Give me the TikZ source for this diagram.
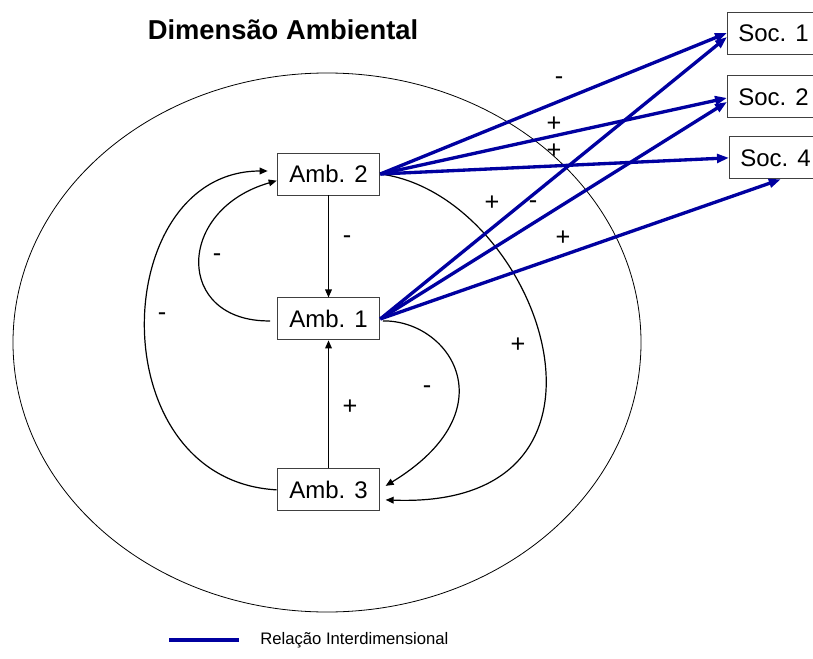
\documentclass[tikz,border=0pt]{standalone}
\usepackage{fontspec}
\setmainfont{Liberation Sans}
\usetikzlibrary{arrows.meta, positioning}
\definecolor{interblue}{RGB}{0,0,160}

\begin{document}
\begin{tikzpicture}[
    x=0.75pt, y=-0.75pt,
    amb/.style={draw=black!75, line width=0.7pt, align=center, minimum width=77pt, minimum height=31.5pt, font=\fontsize{18}{20}\selectfont},
    soc/.style={amb, minimum width=69pt},
    sign/.style={font=\fontsize{19}{20}\selectfont, inner sep=0pt},
    rel/.style={line width=0.9pt, -{Triangle[length=6pt,width=5pt]}},
    inter/.style={line width=2.5pt, draw=interblue, -{Triangle[length=9pt,width=6.5pt]}}
]
\useasboundingbox (0,0) rectangle (813,659);

% Environmental dimension
\draw[line width=0.6pt] (327,342.5) ellipse [x radius=314, y radius=269.5];
\node[font=\fontsize{20.5}{22}\selectfont\bfseries] (title) at (283,30) {Dimensão Ambiental};

% Nodes
\node[amb] (amb2) at (328.5,174) {Amb. 2};
\node[amb, below=76.5pt of amb2] (amb1) {Amb. 1};
\node[amb, below=96pt of amb1] (amb3) {Amb. 3};

\node[soc, anchor=west] (soc1) at (727,33) {Soc. 1};
\node[soc, below=15.75pt of soc1] (soc2) {Soc. 2};
\node[soc, below=13.5pt of soc2, xshift=1.5pt] (soc4) {Soc. 4};

% Connections inside the dimension
\draw[rel] (amb2) -- (amb1);
\draw[rel] (amb3) -- (amb1);
\draw[rel] ([xshift=-5pt,yshift=-1.5pt]amb1.west) .. controls (175,322) and (175,210) .. ([yshift=-5pt]amb2.west);
\draw[rel] (amb3.west) .. controls (98,480) and (108,171) .. ([xshift=-6.75pt,yshift=2.25pt]amb2.west);
\draw[rel] ([xshift=2pt,yshift=-1.5pt]amb1.east) .. controls (450,320) and (510,410) .. ([xshift=4pt,yshift=3pt]amb3.east);
\draw[rel] (amb2.east) .. controls (540,195) and (650,510) .. ([xshift=4pt,yshift=-7.5pt]amb3.east);

% Interdimensional connections
\draw[inter] (amb2.east) -- (soc1.west);
\draw[inter] (amb2.east) -- ([yshift=-0.75pt]soc2.west);
\draw[inter] (amb2.east) -- (soc4.west);
\draw[inter] (amb1.east) -- ([yshift=-3pt]soc1.west);
\draw[inter] (amb1.east) -- ([yshift=-3.75pt]soc2.west);
\draw[inter] (amb1.east) -- ([xshift=4pt]soc4.south);

% Signs
\node[sign] (s21) at (347,240) {-};
\node[sign] (s12) at (217,258) {-};
\node[sign] (s32) at (162,317) {-};
\node[sign] (s31) at (350,407) {+};
\node[sign] (s13) at (427,390) {-};
\node[sign] (s23) at (518,345) {+};
\node[sign] (sa) at (559,81) {-};
\node[sign] (sb) at (554,124) {+};
\node[sign] (sc) at (554,151) {+};
\node[sign] (sd) at (492,203) {+};
\node[sign] (se) at (533,205) {-};
\node[sign] (sf) at (563,238) {+};

% Legend
\coordinate (legA) at (169,640);
\coordinate (legB) at (239,640);
\draw[inter, -] (legA) -- (legB);
\node[anchor=west, inner sep=0pt, font=\fontsize{12.5}{14}\selectfont] (legtext) at (260,640) {Relação Interdimensional};

\end{tikzpicture}
\end{document}
